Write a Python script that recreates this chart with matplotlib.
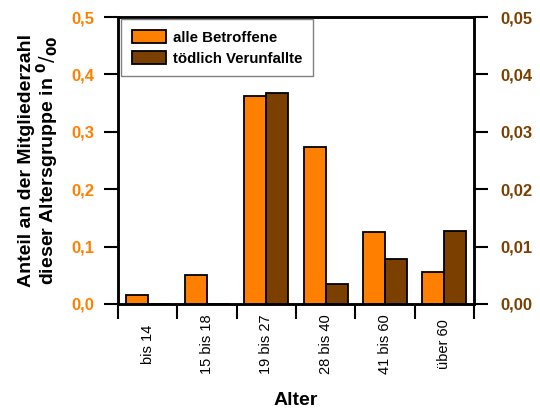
import numpy as np
import matplotlib
matplotlib.use('Agg')
from matplotlib import pyplot as plt

plt.rcParams['font.family'] = ['Liberation Sans', 'DejaVu Sans']

# age groups and rates per thousand members
lsGroups = ['bis 14', '15 bis 18', '19 bis 27', '28 bis 40', '41 bis 60', 'über 60']
npaAlle = np.array([0.015, 0.050, 0.363, 0.274, 0.125, 0.056])       # left axis
npaToedlich = np.array([0.0, 0.0, 0.0367, 0.0034, 0.0078, 0.0128])  # right axis

cOrange = '#FF8000'
cBraun = '#7B3F00'

fig = plt.figure(figsize=(5.4, 4.15), dpi=100)
ax = fig.add_axes([0.2185, 0.2675, 0.659, 0.6915])
ax2 = ax.twinx()

xpos = np.arange(len(lsGroups)) + 0.5
fW = 0.37
b1 = ax.bar(xpos - fW / 2, npaAlle, fW, color=cOrange, edgecolor='k',
            linewidth=1.3, label='alle Betroffene')
b2 = ax2.bar(xpos + fW / 2, npaToedlich, fW, color=cBraun, edgecolor='k',
             linewidth=1.3, label='tödlich Verunfallte')

ax.set_xlim(0, len(lsGroups))
ax.set_ylim(0, 0.5)
ax2.set_ylim(0, 0.05)

lfLeft = np.arange(0, 0.51, 0.1)
lfRight = np.arange(0, 0.051, 0.01)
ax.set_yticks(lfLeft)
ax.set_yticklabels([('%.1f' % v).replace('.', ',') for v in lfLeft])
ax2.set_yticks(lfRight)
ax2.set_yticklabels([('%.2f' % v).replace('.', ',') for v in lfRight])

for tl in ax.get_yticklabels():
    tl.set_color(cOrange)
    tl.set_fontweight('bold')
    tl.set_fontsize(12)
for tl in ax2.get_yticklabels():
    tl.set_color(cBraun)
    tl.set_fontweight('bold')
    tl.set_fontsize(12)

ax.tick_params(axis='y', direction='out', length=10, width=1.5, pad=7)
ax2.tick_params(axis='y', direction='out', length=10, width=1.5, pad=9)

# boundaries get the tick marks, names sit between them
ax.set_xticks(np.arange(0, len(lsGroups) + 1))
ax.set_xticklabels([])
ax.set_xticks(xpos, minor=True)
ax.set_xticklabels(lsGroups, minor=True, rotation=90, va='center', fontsize=10.5)
ax.tick_params(axis='x', which='major', direction='out', length=11, width=1.5)
ax.tick_params(axis='x', which='minor', length=0, pad=29)

for a in (ax, ax2):
    for sp in a.spines.values():
        sp.set_linewidth(1.8)

ax.set_xlabel('Alter', fontsize=14, fontweight='bold', labelpad=13)
ax.set_ylabel('Anteil an der Mitgliederzahl\ndieser Altersgruppe in $^\\mathbf{0}/_\\mathbf{00}$',
              fontsize=14, fontweight='bold', labelpad=8, linespacing=0.95)

leg = ax2.legend(handles=[b1, b2], loc='upper left', bbox_to_anchor=(0.005, 0.997),
                 prop={'weight': 'bold', 'size': 10.8}, fancybox=False,
                 edgecolor='#808080', framealpha=1, handlelength=2.3,
                 handleheight=0.95, handletextpad=0.45, borderpad=0.7,
                 labelspacing=0.45, borderaxespad=0.1)
leg.get_frame().set_linewidth(1.0)

fig.savefig('out.png', dpi=100)
